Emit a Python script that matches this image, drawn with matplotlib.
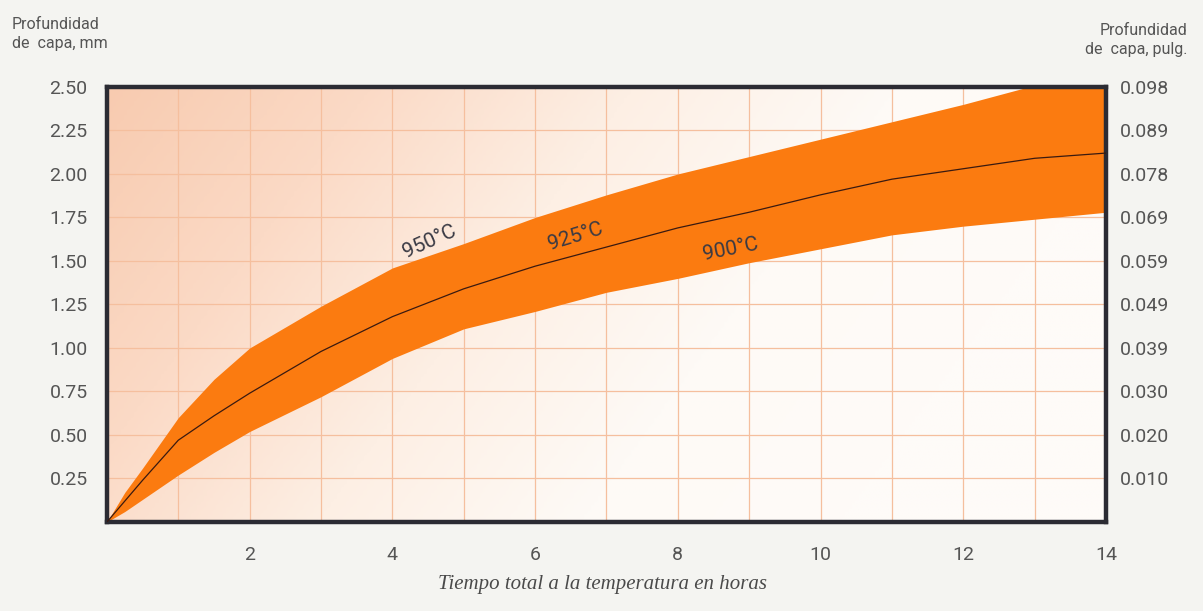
import numpy as np
import matplotlib
matplotlib.use("Agg")
import matplotlib.pyplot as plt
from matplotlib.colors import LinearSegmentedColormap

# ---- data ----
hours = [0, 0.25, 0.5, 1, 1.5, 2, 3, 4, 5, 6, 7, 8, 9, 10, 11, 12, 13, 14]
d950 = [0, 0.17, 0.31, 0.60, 0.82, 1.00, 1.24, 1.46, 1.60, 1.75, 1.88, 2.00, 2.10, 2.20, 2.30, 2.40, 2.51, 2.60]
d925 = [0, 0.12, 0.24, 0.47, 0.61, 0.74, 0.98, 1.18, 1.34, 1.47, 1.58, 1.69, 1.78, 1.88, 1.97, 2.03, 2.09, 2.12]
d900 = [0, 0.06, 0.13, 0.27, 0.40, 0.52, 0.72, 0.94, 1.11, 1.21, 1.32, 1.40, 1.49, 1.57, 1.65, 1.70, 1.74, 1.78]

mm_ticks = [0.25, 0.50, 0.75, 1.00, 1.25, 1.50, 1.75, 2.00, 2.25, 2.50]
mm_labels = ["0.25", "0.50", "0.75", "1.00", "1.25", "1.50", "1.75", "2.00", "2.25", "2.50"]
in_labels = ["0.010", "0.020", "0.030", "0.039", "0.049", "0.059", "0.069", "0.078", "0.089", "0.098"]
x_ticks = [2, 4, 6, 8, 10, 12, 14]

curve_labels = [("950°C", 4.52, 1.61, 24), ("925°C", 6.57, 1.64, 17), ("900°C", 8.74, 1.57, 11)]

SANS = ["Liberation Sans Narrow", "Roboto", "DejaVu Sans"]
SERIF = ["Liberation Serif", "DejaVu Serif"]
TXT = "#555555"
BAND = "#fb7b10"
GRID = "#f5bf9e"
SPINE = "#2b2b33"

fig = plt.figure(figsize=(12.03, 6.11), dpi=100, facecolor="#f4f4f1")
ax = fig.add_axes([0.0889, 0.1457, 0.8305, 0.7120])

# background gradient (peach at left/top fading to near white at right/bottom)
gx, gy = np.meshgrid(np.linspace(0, 1, 300), np.linspace(0, 1, 150))
t = np.clip(gx * 0.95 + gy * 0.30, 0, 1)
cmap = LinearSegmentedColormap.from_list("bg", ["#f8cbb0", "#fbdac6", "#fdefe4", "#fefaf6", "#fefbf8"], N=256)
ax.imshow(t, cmap=cmap, extent=[0, 14, 0, 2.5], origin="upper", aspect="auto", zorder=0, vmin=0, vmax=1)

# grid
for xv in range(1, 14):
    ax.axvline(xv, color=GRID, lw=0.9, zorder=1)
for yv in np.arange(0.25, 2.5, 0.25):
    ax.axhline(yv, color=GRID, lw=0.9, zorder=1)

ax.fill_between(hours, d900, d950, color=BAND, lw=0, zorder=2)
ax.plot(hours, d925, color="#3a1a10", lw=0.9, zorder=3)

for txt, x, y, rot in curve_labels:
    ax.text(x, y, txt, rotation=rot, rotation_mode="anchor", ha="center", va="center",
            fontsize=15, color="#3a3a44", family=SANS, zorder=4)

ax.set_xlim(0, 14)
ax.set_ylim(0, 2.5)
ax.set_xticks(x_ticks)
ax.set_xticklabels([str(v) for v in x_ticks])
ax.set_yticks(mm_ticks)
ax.set_yticklabels(mm_labels)
ax.tick_params(axis="both", length=0, labelsize=14, colors=TXT)
ax.tick_params(axis="x", pad=17)
ax.tick_params(axis="y", pad=14)
for lab in ax.get_xticklabels() + ax.get_yticklabels():
    lab.set_family(SANS)
for s in ax.spines.values():
    s.set_color(SPINE)
    s.set_linewidth(3.2)

ax2 = ax.twinx()
ax2.set_ylim(0, 2.5)
ax2.set_yticks(mm_ticks)
ax2.set_yticklabels(in_labels)
ax2.tick_params(axis="y", length=0, labelsize=14, colors=TXT, pad=10)
for lab in ax2.get_yticklabels():
    lab.set_family(SANS)
for s in ax2.spines.values():
    s.set_visible(False)

fig.text(0.010, 0.972, "Profundidad\nde  capa, mm", ha="left", va="top", fontsize=11.5,
         color=TXT, family=SANS, linespacing=1.35)
fig.text(0.987, 0.962, "Profundidad\nde  capa, pulg.", ha="right", va="top", fontsize=11.5,
         color=TXT, family=SANS, linespacing=1.35, multialignment="right")
fig.text(0.364, 0.043, "Tiempo total a la temperatura en horas", ha="left", va="center",
         fontsize=15, color="#4a4a4a", family=SERIF, style="italic")

fig.savefig("out.png", dpi=100, facecolor=fig.get_facecolor())
